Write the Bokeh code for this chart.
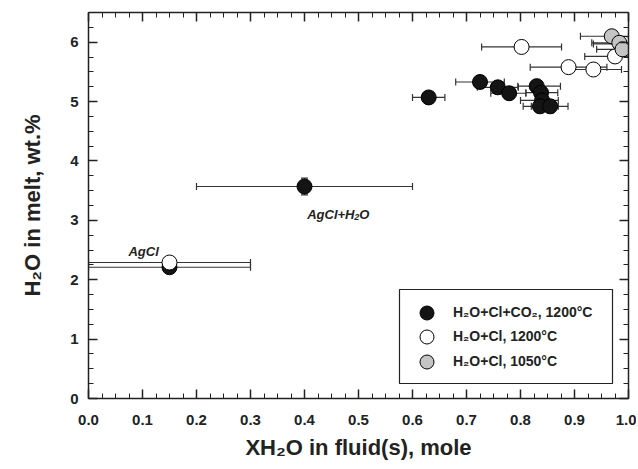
import math
from bokeh.plotting import figure
from bokeh.models import (Range1d, LinearAxis, SingleIntervalTicker, NumeralTickFormatter,
                          ColumnDataSource, Whisker, TeeHead, Label, Legend, LegendItem,
                          BoxAnnotation, CustomLabelingPolicy)
from bokeh.embed import file_html
from bokeh.resources import INLINE

# ---------------- data ----------------
# H2O+Cl+CO2, 1200 C (black)
co2_x = [0.15, 0.40, 0.63, 0.725, 0.758, 0.779, 0.830, 0.838, 0.840, 0.836, 0.855]
co2_y = [2.21, 3.57, 5.07, 5.33, 5.24, 5.14, 5.26, 5.15, 5.02, 4.92, 4.92]
co2_xlo = [0.00, 0.20, 0.60, 0.68, 0.72, 0.745, 0.795, 0.81, 0.80, 0.805, 0.82]
co2_xhi = [0.30, 0.60, 0.66, 0.77, 0.796, 0.81, 0.874, 0.869, 0.87, 0.87, 0.888]
co2_yerr = [0.0, 0.14, 0.0, 0.0, 0.0, 0.0, 0.10, 0.0, 0.0, 0.0, 0.0]

# H2O+Cl, 1200 C (open)
cl12_x = [0.15, 0.802, 0.889, 0.935, 0.975, 0.994]
cl12_y = [2.29, 5.92, 5.58, 5.54, 5.76, 5.97]
cl12_xlo = [0.00, 0.728, 0.818, 0.88, 0.919, 0.935]
cl12_xhi = [0.30, 0.876, 0.96, 0.987, 1.0, 1.0]
cl12_yerr = [0.0, 0.0, 0.06, 0.0, 0.0, 0.0]

# H2O+Cl, 1050 C (grey)
cl10_x = [0.969, 0.983, 0.989]
cl10_y = [6.10, 5.99, 5.88]
cl10_xlo = [0.911, 0.932, 0.941]
cl10_xhi = [1.0, 1.0, 1.0]
cl10_yerr = [0.0, 0.0, 0.0]

legend_labels = ["H\u2082O+Cl+CO\u2082, 1200\u00b0C", "H\u2082O+Cl, 1200\u00b0C", "H\u2082O+Cl, 1050\u00b0C"]
x_title = "XH\u2082O in fluid(s), mole"
y_title = "H\u2082O in melt, wt.%"

FONT = "Liberation Sans"
INK = "#222222"

p = figure(frame_width=540, frame_height=386,
           min_border_left=88, min_border_right=8, min_border_top=12, min_border_bottom=69,
           x_range=Range1d(0, 1.0), y_range=Range1d(0, 6.5),
           output_backend="svg", toolbar_location=None)
p.outline_line_color = None
p.xgrid.visible = False
p.ygrid.visible = False
p.background_fill_color = "white"
p.border_fill_color = "white"

no_labels = CustomLabelingPolicy(code="for (const i of Array.from(indices)) { indices.unset(i) }")

def style_axis(ax, ticker, show_labels):
    ax.ticker = ticker
    ax.axis_line_color = INK
    ax.axis_line_width = 1.5
    ax.major_tick_line_color = INK
    ax.minor_tick_line_color = INK
    ax.major_tick_line_width = 1.5
    ax.minor_tick_line_width = 1
    ax.major_tick_in = 9
    ax.major_tick_out = 0
    ax.minor_tick_in = 5
    ax.minor_tick_out = 0
    if show_labels:
        ax.major_label_text_font = FONT
        ax.major_label_text_font_style = "bold"
        ax.major_label_text_font_size = "15px"
        ax.major_label_text_color = INK
        ax.axis_label_text_font = FONT
        ax.axis_label_text_font_style = "bold"
        ax.axis_label_text_font_size = "22px"
        ax.axis_label_text_color = INK
    else:
        ax.major_label_policy = no_labels
        ax.major_label_text_font_size = "1px"
        ax.major_label_standoff = 0

style_axis(p.xaxis[0], SingleIntervalTicker(interval=0.1, num_minor_ticks=4), True)
p.xaxis[0].formatter = NumeralTickFormatter(format="0.0")
p.xaxis[0].major_label_standoff = 16
p.xaxis[0].axis_label = x_title
p.xaxis[0].axis_label_standoff = 7
style_axis(p.yaxis[0], SingleIntervalTicker(interval=1, num_minor_ticks=4), True)
p.yaxis[0].formatter = NumeralTickFormatter(format="0")
p.yaxis[0].major_label_standoff = 10
p.yaxis[0].axis_label = y_title
p.yaxis[0].axis_label_standoff = 22

top = LinearAxis()
style_axis(top, SingleIntervalTicker(interval=0.1, num_minor_ticks=4), False)
p.add_layout(top, "above")
right = LinearAxis()
style_axis(right, SingleIntervalTicker(interval=1, num_minor_ticks=4), False)
p.add_layout(right, "right")

series = [
    (co2_x, co2_y, co2_xlo, co2_xhi, co2_yerr, "#141414"),
    (cl12_x, cl12_y, cl12_xlo, cl12_xhi, cl12_yerr, "white"),
    (cl10_x, cl10_y, cl10_xlo, cl10_xhi, cl10_yerr, "#c4c4c4"),
]

def tee():
    return TeeHead(size=7, line_color="#333333", line_width=1.2)

for xs, ys, xlo, xhi, yerr, fill in series:
    src = ColumnDataSource(dict(x=xs, y=ys, xlo=xlo, xhi=xhi))
    p.add_layout(Whisker(source=src, base="y", lower="xlo", upper="xhi", dimension="width",
                         line_color="#333333", line_width=1.2,
                         lower_head=tee(), upper_head=tee()))
    idx = [i for i, e in enumerate(yerr) if e > 0]
    if idx:
        ysrc = ColumnDataSource(dict(x=[xs[i] for i in idx],
                                     ylo=[ys[i] - yerr[i] for i in idx],
                                     yhi=[ys[i] + yerr[i] for i in idx]))
        p.add_layout(Whisker(source=ysrc, base="x", lower="ylo", upper="yhi", dimension="height",
                             line_color="#333333", line_width=1.2,
                             lower_head=tee(), upper_head=tee()))

renderers = []
for xs, ys, xlo, xhi, yerr, fill in series:
    src = ColumnDataSource(dict(x=xs, y=ys))
    r = p.scatter("x", "y", source=src, marker="circle", size=15,
                  fill_color=fill, line_color="black", line_width=1)
    renderers.append(r)

# legend frame
p.add_layout(BoxAnnotation(left=311, right=524, bottom=15, top=109,
                           left_units="screen", right_units="screen",
                           bottom_units="screen", top_units="screen",
                           fill_color="white", fill_alpha=1,
                           line_color=INK, line_alpha=1, line_width=1.2, level="annotation"))

# one legend row per series, stacked inside the frame
row_bottoms = [68.5, 44.5, 19.5]
for lab_text, r, yb in zip(legend_labels, renderers, row_bottoms):
    lg = Legend(items=[LegendItem(label=lab_text, renderers=[r])], location=(321, yb))
    lg.label_text_font = FONT
    lg.label_text_font_style = "bold"
    lg.label_text_font_size = "14px"
    lg.label_text_color = INK
    lg.border_line_color = None
    lg.background_fill_alpha = 0
    lg.glyph_width = 35
    lg.glyph_height = 35
    lg.label_height = 20
    lg.spacing = 0
    lg.padding = 0
    lg.margin = 0
    lg.label_standoff = 9
    p.add_layout(lg)

# ---------------- in-plot notes ----------------
def lab(text, x, y, size, xo=0, yo=0):
    p.add_layout(Label(x=x, y=y, text=text,
                       text_font=FONT, text_font_style="bold italic", text_font_size=size,
                       text_color=INK, text_align="left", text_baseline="alphabetic",
                       x_offset=xo, y_offset=yo))

lab("AgCl", 0.074, 2.48, "13px")
lab("AgCl+H", 0.405, 3.10, "13px")
lab("2", 0.405, 3.10, "9px", xo=47, yo=-3)
lab("O", 0.405, 3.10, "13px", xo=52)

open("out.html", "w").write(file_html(p, INLINE))
